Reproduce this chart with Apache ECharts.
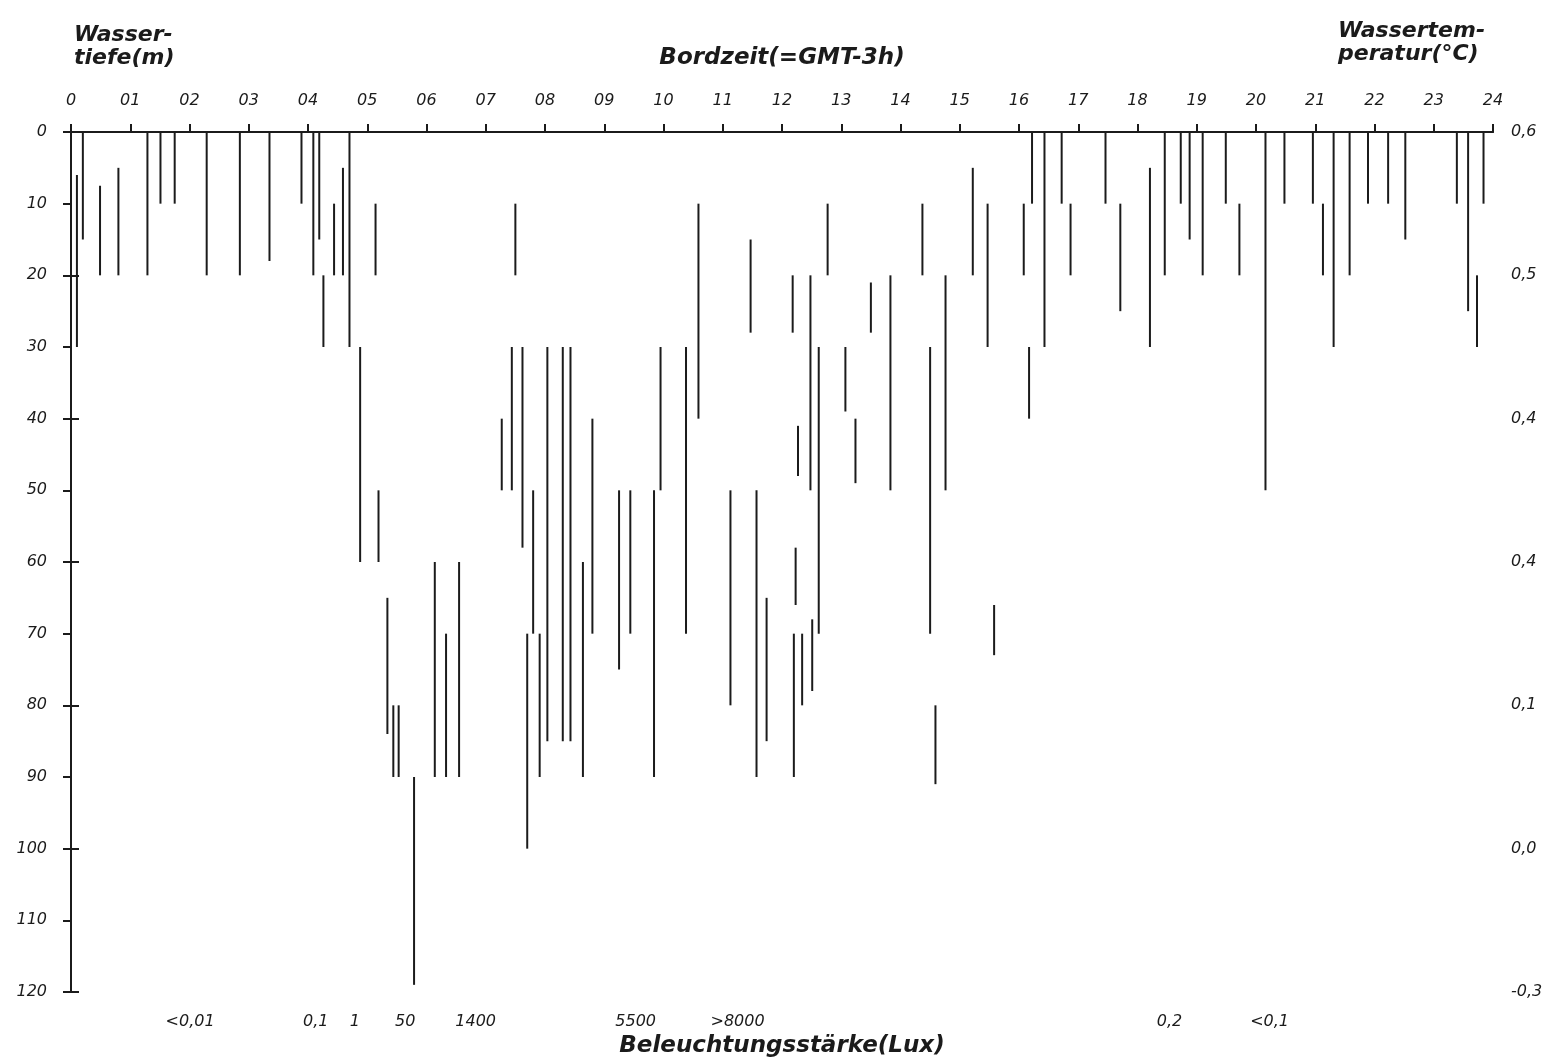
<!DOCTYPE html>
<html>
<head>
<meta charset="utf-8">
<script src="https://cdn.jsdelivr.net/npm/echarts@6/dist/echarts.min.js"></script>
<style>
html,body{margin:0;padding:0;background:#fff;}
#chart{width:1556px;height:1064px;}
</style>
</head>
<body>
<div id="chart"></div>
<script>
// Time (hours, Bordzeit) of each sampling haul
const segTime = [0.10,0.20,0.49,0.80,1.29,1.51,1.75,2.29,2.85,3.35,3.89,4.09,4.19,4.26,4.44,4.59,4.70,
  4.88,5.14,5.19,5.34,5.44,5.53,5.79,6.14,6.33,6.55,
  7.27,7.44,7.50,7.62,7.70,7.80,7.91,8.04,8.30,8.43,8.64,8.80,9.25,9.44,9.84,9.95,10.38,10.59,
  11.13,11.47,11.57,11.74,12.18,12.20,12.23,12.27,12.34,12.48,12.51,12.62,12.77,13.07,13.24,13.50,13.83,
  14.37,14.50,14.59,14.76,15.22,15.47,15.58,
  16.08,16.17,16.22,16.43,16.72,16.87,17.46,17.71,18.21,18.46,18.73,18.88,19.10,19.49,19.72,20.16,
  20.48,20.96,21.13,21.31,21.58,21.89,22.23,22.52,23.39,23.58,23.73,23.84];
// Upper depth (m) of each haul
const segTop = [6,0,7.5,5,0,0,0,0,0,0,0,0,0,20,10,5,0,
  30,10,50,65,80,80,90,60,70,60,
  40,30,10,30,70,50,70,30,30,30,60,40,50,50,50,30,30,10,
  50,15,50,65,20,70,58,41,70,20,68,30,10,30,40,21,20,
  10,30,80,20,5,10,66,
  10,30,0,0,0,10,0,10,5,0,0,0,0,0,10,0,
  0,0,10,0,0,0,0,0,0,0,20,0];
// Lower depth (m) of each haul
const segBottom = [30,15,20,20,20,10,10,20,20,18,10,20,15,30,20,20,30,
  60,20,60,84,90,90,119,90,90,90,
  50,50,20,58,100,70,90,85,85,85,90,70,75,70,90,50,70,40,
  80,28,90,85,28,90,66,48,80,50,78,70,20,39,49,28,50,
  20,70,91,50,20,30,73,
  20,40,10,30,10,20,10,25,30,20,10,15,20,10,20,50,
  10,10,20,30,20,10,10,15,10,25,30,10];

const timeLabels = ['0','01','02','03','04','05','06','07','08','09','10','11','12',
  '13','14','15','16','17','18','19','20','21','22','23','24'];
const tempLabels = ['0,6','0,5','0,4','0,4','0,1','0,0','-0,3'];
const luxTimes = [2.01,4.13,4.79,5.64,6.83,9.53,11.25,18.54,20.23];
const luxLabels = ['<0,01','0,1','1','50','1400','5500','>8000','0,2','<0,1'];

const segData = segTime.map((t,i)=>[t, segTop[i], segBottom[i]]);

const INK = '#1b1b1b';
const FONT = 'DejaVu Sans';
const tickFont = {color: INK, fontFamily: FONT, fontStyle: 'italic', fontSize: 16};
const nameFont = {color: INK, fontFamily: FONT, fontStyle: 'italic', fontWeight: 'bold', fontSize: 22, lineHeight: 23};

const chart = echarts.init(document.getElementById('chart'));
chart.setOption({
  animation: false,
  backgroundColor: '#fff',
  title: [{
    text: 'Wasser-\ntiefe(m)', left: 74, top: 24,
    textStyle: Object.assign({}, nameFont), padding: 0
  }, {
    text: 'Wassertem-\nperatur(°C)', left: 1338, top: 20,
    textStyle: Object.assign({}, nameFont), padding: 0
  }],
  grid: {left: 71, right: 63, top: 132, bottom: 72, containLabel: false, outerBoundsMode: 'none'},
  xAxis: [{
    type: 'value', position: 'top', min: 0, max: 24, interval: 1,
    axisLine: {show: true, lineStyle: {color: INK, width: 2}},
    axisTick: {show: true, length: 8, lineStyle: {color: INK, width: 2}},
    axisLabel: Object.assign({margin: 23, formatter: v => timeLabels[Math.round(v)]}, tickFont),
    splitLine: {show: false},
    name: 'Bordzeit(=GMT-3h)', nameLocation: 'middle', nameGap: 62,
    nameTextStyle: Object.assign({}, nameFont, {fontSize: 23})
  }, {
    type: 'value', position: 'bottom', min: 0, max: 24,
    axisLine: {show: true, lineStyle: {color: INK, width: 2}},
    axisTick: {show: false},
    axisLabel: Object.assign({margin: 22, customValues: luxTimes, showMinLabel: true, showMaxLabel: true,
      formatter: v => {
        let best = 0;
        for (let i = 1; i < luxTimes.length; i++) if (Math.abs(luxTimes[i]-v) < Math.abs(luxTimes[best]-v)) best = i;
        return luxLabels[best];
      }}, tickFont),
    splitLine: {show: false},
    name: 'Beleuchtungsstärke(Lux)', nameLocation: 'middle', nameGap: 42,
    nameTextStyle: Object.assign({}, nameFont, {fontSize: 23})
  }],
  yAxis: [{
    type: 'value', position: 'left', inverse: true, min: 0, max: 120, interval: 10,
    axisLine: {show: true, lineStyle: {color: INK, width: 2}},
    axisTick: {show: true, length: 8, lineStyle: {color: INK, width: 2}},
    axisLabel: Object.assign({margin: 24}, tickFont),
    splitLine: {show: false}
  }, {
    type: 'value', position: 'right', inverse: true, min: 0, max: 120, interval: 20,
    axisLine: {show: true, lineStyle: {color: INK, width: 2}},
    axisTick: {show: true, length: 8, lineStyle: {color: INK, width: 2}},
    axisLabel: Object.assign({margin: 18, formatter: v => tempLabels[Math.round(v/20)]}, tickFont),
    splitLine: {show: false}
  }],
  series: [{
    type: 'custom',
    xAxisIndex: 0, yAxisIndex: 0,
    encode: {x: 0, y: [1, 2]},
    data: segData,
    renderItem: function (params, api) {
      const p1 = api.coord([api.value(0), api.value(1)]);
      const p2 = api.coord([api.value(0), api.value(2)]);
      return {type: 'line', shape: {x1: p1[0], y1: p1[1], x2: p2[0], y2: p2[1]},
        style: {stroke: INK, lineWidth: 2}};
    }
  }]
});
</script>
</body>
</html>
